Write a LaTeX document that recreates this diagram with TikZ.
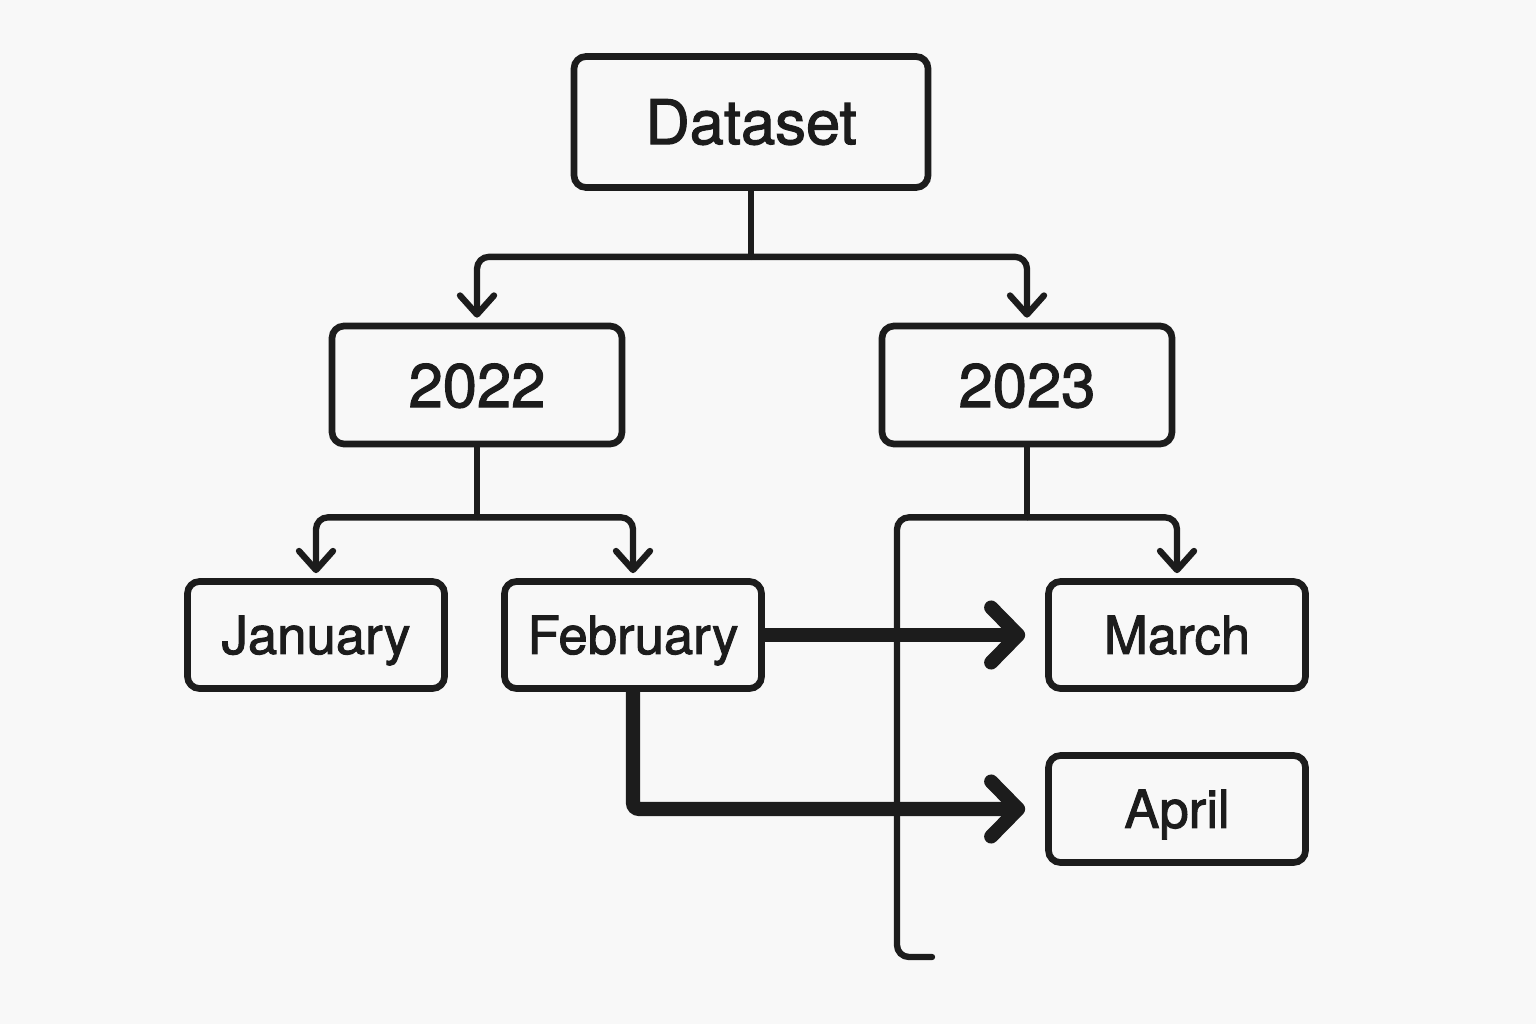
\documentclass[tikz,border=0pt]{standalone}
\usepackage{fontspec}
\setmainfont{TeX Gyre Heros}[BoldFont={TeX Gyre Heros}, BoldFeatures={FakeBold=1.8}]
\usetikzlibrary{arrows.meta, positioning}
\definecolor{paper}{HTML}{F8F8F8}
\definecolor{ink}{HTML}{1C1C1C}
\tikzstyle{root} = [rectangle, rounded corners=0.12cm, minimum width=3.54cm, minimum height=1.31cm, text centered, text height=12.6pt, text depth=0pt, draw=ink, line width=1.9pt, fill=paper, text=ink, font=\fontsize{17.5}{21}\selectfont\bfseries]
\tikzstyle{year} = [rectangle, rounded corners=0.12cm, minimum width=2.90cm, minimum height=1.18cm, text centered, text height=12.6pt, text depth=0pt, draw=ink, line width=1.9pt, fill=paper, text=ink, font=\fontsize{17.5}{21}\selectfont\bfseries]
\tikzstyle{month} = [rectangle, rounded corners=0.12cm, minimum width=2.57cm, minimum height=1.07cm, text centered, text height=10.8pt, text depth=0pt, draw=ink, line width=1.9pt, fill=paper, text=ink, font=\fontsize{15}{18}\selectfont\bfseries]
\tikzstyle{link} = [line width=1.8pt, draw=ink, rounded corners=0.12cm]
\tikzstyle{arrow} = [link, -{Straight Barb[length=0.19cm, width=0.34cm, round]}, shorten >=0.05cm]
\tikzstyle{bigarrow} = [line width=4pt, draw=ink, rounded corners=0.06cm, -{Straight Barb[length=0.27cm, width=0.55cm, round]}, shorten >=0.2cm]

\begin{document}
\begin{tikzpicture}[node distance=2.5cm]
  \fill[paper] (0,0) rectangle (15.36,10.24);
  \useasboundingbox (0,0) rectangle (15.36,10.24);

  \node (dataset) [root] at (7.51,9.02) {Dataset};
  \node (y22) [year, below of=dataset, xshift=-2.74cm, yshift=-0.13cm] {2022};
  \node (y23) [year, right of=y22, xshift=3cm] {2023};
  \node (jan) [month, below of=y22, xshift=-1.61cm] {January};
  \node (feb) [month, below of=y22, xshift=1.56cm] {February};
  \node (mar) [month, below of=y23, xshift=1.5cm] {March};
  \node (apr) [month, below of=mar, yshift=0.76cm] {April};

  \coordinate [below=0.66cm of dataset] (fork top);
  \coordinate [below=0.70cm of y22] (fork 22);
  \coordinate [below=0.70cm of y23] (fork 23);
  \coordinate (loose corner) at (8.97,0.67);
  \coordinate (loose end) at (9.32,0.67);

  \draw [bigarrow] (feb) -- (mar);
  \draw [bigarrow] (feb.south) |- (apr.west);

  \draw [link] (dataset.south) -- (fork top);
  \draw [arrow] (fork top) -| (y22.north);
  \draw [arrow] (fork top) -| (y23.north);
  \draw [link] (y22.south) -- (fork 22);
  \draw [arrow] (fork 22) -| (jan.north);
  \draw [arrow] (fork 22) -| (feb.north);
  \draw [link] (y23.south) -- (fork 23);
  \draw [arrow] (fork 23) -| (mar.north);
  \draw [link, line cap=round] (fork 23) -| (loose corner) -- (loose end);
\end{tikzpicture}
\end{document}
